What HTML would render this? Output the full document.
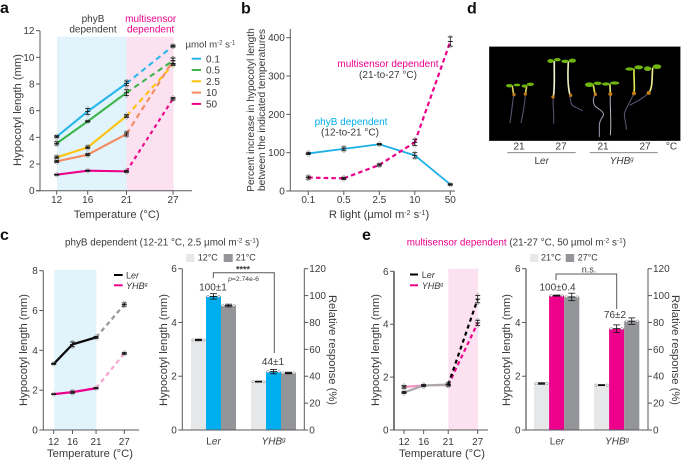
<!DOCTYPE html>
<html lang="en">
<head>
<meta charset="utf-8">
<title>Hypocotyl length figure</title>
<style>
html,body{margin:0;padding:0;background:#fff;}
svg{display:block;font-family:"Liberation Sans",Arial,sans-serif;fill:#3a3a3c;font-size:10px;}
.panel{font-size:16px;font-weight:bold;fill:#111;}
.axt{font-size:11.2px;}
.mid{text-anchor:middle;}
.pk{fill:#ec008c;}
.bl{fill:#00aeef;}
.it{font-style:italic;}
</style>
</head>
<body>
<svg id="fig" width="685" height="460" viewBox="0 0 685 460" xmlns="http://www.w3.org/2000/svg">
  <rect width="685" height="460" fill="#fff"/>
  <text class="panel" x="0" y="13">a</text>
  <text class="panel" x="241" y="13.5">b</text>
  <text class="panel" x="467" y="13.5">d</text>
  <text class="panel" x="0" y="240">c</text>
  <text class="panel" x="362" y="240">e</text>

  <!-- panel a static -->
  <rect x="57" y="36.7" width="69.5" height="154" fill="#e1f4fc"/>
  <rect x="126.5" y="36.7" width="47" height="154" fill="#fce1f0"/>
  <text class="mid" x="93" y="22">phyB</text>
  <text class="mid" x="93" y="32.5">dependent</text>
  <text class="mid pk" x="150.7" y="22">multisensor</text>
  <text class="mid pk" x="150.7" y="32.5">dependent</text>
  <text class="axt" text-anchor="middle" transform="translate(21,110) rotate(-90)">Hypocotyl length (mm)</text>
  <text class="axt mid" x="116.7" y="218">Temperature (°C)</text>
  <text x="185.5" y="47.5" style="font-size:9.6px">µmol m<tspan font-size="6" dy="-3">-2</tspan><tspan dy="3"> s</tspan><tspan font-size="6" dy="-3">-1</tspan></text>

  <!-- panel b static -->
  <text text-anchor="middle" style="font-size:10.2px" transform="translate(254,110) rotate(-90)">Percent increase in hypocotyl length</text>
  <text text-anchor="middle" style="font-size:10.2px" transform="translate(265,110) rotate(-90)">between the indicated temperatures</text>
  <text class="axt mid" x="379" y="218">R light (µmol m<tspan font-size="7" dy="-3">-2</tspan><tspan dy="3"> s</tspan><tspan font-size="7" dy="-3">-1</tspan><tspan dy="3">)</tspan></text>
  <text class="mid pk" x="388" y="67">multisensor dependent</text>
  <text class="mid" x="388" y="78">(21-to-27 °C)</text>
  <text class="mid bl" x="351" y="125">phyB dependent</text>
  <text class="mid" x="350" y="135.5">(12-to-21 °C)</text>

  <!-- panel d -->
  <rect x="489.3" y="46.7" width="191" height="94" fill="#000" stroke="#444" stroke-width=".5"/>
  <g transform="translate(455,0) scale(.33333)" fill="none" stroke-linecap="round">
    <g stroke="#5d5878" stroke-width="3">
      <path d="M176 285 C172 310 170 340 165 368"/>
      <path d="M211 283 C210 310 204 340 198 368"/>
      <path d="M295 290 C292 315 298 340 296 370"/>
      <path d="M345 285 C345 300 348 310 352 316 C360 322 372 326 382 332"/>
      <path d="M420 283 C410 305 416 318 430 326 C450 338 448 345 438 358 C430 370 434 390 433 410" stroke="#a09cb4"/>
      <path d="M466 283 C464 320 470 360 466 405" stroke="#b8b6c4"/>
      <path d="M537 280 C528 300 515 320 508 340 C508 360 514 370 514 388"/>
      <path d="M582 278 C565 295 545 305 525 315"/>
    </g>
    <g stroke-width="5">
      <path d="M172 258 L176 285" stroke="#d6d25a"/>
      <path d="M215 258 L211 283" stroke="#d6d25a"/>
      <path d="M298 185 C297 220 300 260 295 290" stroke="#f2f2d2"/>
      <path d="M340 186 C338 220 338 260 345 285" stroke="#ecebb8"/>
      <path d="M415 256 L420 283" stroke="#dcdf4a"/>
      <path d="M465 254 L466 283" stroke="#e4e47e"/>
      <path d="M537 208 C536 235 540 260 537 280" stroke="#e2e64c"/>
      <path d="M593 205 C590 235 594 260 582 278" stroke="#e8ea8a"/>
    </g>
    <g fill="#c07a1a" stroke="none">
      <circle cx="177" cy="284" r="5"/>
      <circle cx="211" cy="282" r="5"/>
      <circle cx="294" cy="291" r="5"/>
      <circle cx="347" cy="286" r="5"/>
      <circle cx="421" cy="283" r="5"/>
      <circle cx="466" cy="282" r="6"/>
      <circle cx="537" cy="280" r="6"/>
      <circle cx="581" cy="279" r="6"/>
    </g>
    <g fill="#6fb50e" stroke="none">
      <ellipse cx="163" cy="257" rx="10" ry="5"/>
      <ellipse cx="186" cy="255" rx="10" ry="4"/>
      <ellipse cx="208" cy="258" rx="8" ry="5"/>
      <ellipse cx="226" cy="253" rx="11" ry="5"/>
      <ellipse cx="287" cy="183" rx="10" ry="6"/>
      <ellipse cx="307" cy="179" rx="10" ry="5"/>
      <ellipse cx="330" cy="184" rx="11" ry="5"/>
      <ellipse cx="352" cy="182" rx="11" ry="6"/>
      <ellipse cx="403" cy="254" rx="13" ry="7"/>
      <ellipse cx="428" cy="250" rx="12" ry="5"/>
      <ellipse cx="453" cy="252" rx="12" ry="5"/>
      <ellipse cx="479" cy="249" rx="14" ry="5"/>
      <ellipse cx="524" cy="207" rx="13" ry="5"/>
      <ellipse cx="551" cy="202" rx="13" ry="6"/>
      <ellipse cx="578" cy="206" rx="11" ry="7"/>
      <ellipse cx="606" cy="200" rx="13" ry="7"/>
    </g>
  </g>
  <text class="mid" x="519" y="149.5">21</text>
  <text class="mid" x="561" y="149.5">27</text>
  <text class="mid" x="603" y="149.5">21</text>
  <text class="mid" x="645" y="149.5">27</text>
  <text class="mid" x="671.5" y="149.5">°C</text>
  <rect x="507.3" y="152" width="68.4" height="1.2" fill="#999"/>
  <rect x="589.7" y="152" width="68" height="1.2" fill="#999"/>
  <text class="mid" x="541.7" y="164">L<tspan class="it">er</tspan></text>
  <text class="mid it" x="621.7" y="164">YHB<tspan font-size="6" dy="-3">g</tspan></text>

  <!-- panel c static -->
  <text x="65" y="245.5" style="font-size:9.9px">phyB dependent (12-21 °C, 2.5 µmol m<tspan font-size="6.5" dy="-3">-2</tspan><tspan dy="3"> s</tspan><tspan font-size="6.5" dy="-3">-1</tspan><tspan dy="3">)</tspan></text>
  <rect x="54.3" y="270" width="42" height="160" fill="#e1f4fc"/>
  <text class="axt" text-anchor="middle" transform="translate(27,350) rotate(-90)">Hypocotyl length (mm)</text>
  <text class="axt mid" x="90" y="457">Temperature (°C)</text>
  <rect x="114" y="274" width="8.7" height="2" fill="#000"/>
  <text x="126" y="278.5" style="font-size:9px">L<tspan class="it">er</tspan></text>
  <rect x="114" y="284.3" width="8.7" height="2" fill="#ec008c"/>
  <text class="it" x="126" y="288.8" style="font-size:9px">YHB<tspan font-size="5.5" dy="-3">g</tspan></text>
  <rect x="186" y="254" width="8.3" height="8" fill="#e6e7e8"/>
  <text x="197.7" y="260.5" style="font-size:9px">12°C</text>
  <rect x="223.7" y="254" width="9" height="8" fill="#939598"/>
  <text x="235.7" y="260.5" style="font-size:9px">21°C</text>
  <text class="axt" text-anchor="middle" transform="translate(167,350) rotate(-90)">Hypocotyl length (mm)</text>
  <text class="axt" text-anchor="middle" transform="translate(329,350) rotate(90)">Relative response (%)</text>
  <path d="M213.3 278 V272.7 H274.3 V353" fill="none" stroke="#58595b" stroke-width="1"/>
  <text class="mid" x="243" y="272.5" style="font-size:9px;font-weight:bold">****</text>
  <text class="mid" x="243.5" y="281" style="font-size:6.8px"><tspan class="it">p</tspan>=2.74e-6</text>
  <text class="mid" x="213" y="290.5">100±1</text>
  <text class="mid" x="273" y="365">44±1</text>
  <text class="mid" x="213.5" y="444.5">L<tspan class="it">er</tspan></text>
  <text class="mid it" x="273.5" y="444.5">YHB<tspan font-size="6" dy="-3">g</tspan></text>

  <!-- panel e static -->
  <text x="406.7" y="245.5" style="font-size:9.9px"><tspan class="pk">multisensor dependent</tspan> (21-27 °C, 50 µmol m<tspan font-size="6.5" dy="-3">-2</tspan><tspan dy="3"> s</tspan><tspan font-size="6.5" dy="-3">-1</tspan><tspan dy="3">)</tspan></text>
  <rect x="448.3" y="268.7" width="29.7" height="161.3" fill="#fce1f0"/>
  <text class="axt" text-anchor="middle" transform="translate(379,350) rotate(-90)">Hypocotyl length (mm)</text>
  <text class="axt mid" x="442" y="457">Temperature (°C)</text>
  <rect x="410" y="273.5" width="8" height="2" fill="#000"/>
  <text x="421.7" y="277.8" style="font-size:9px">L<tspan class="it">er</tspan></text>
  <rect x="410" y="284.3" width="8" height="2" fill="#ec008c"/>
  <text class="it" x="421.7" y="288.8" style="font-size:9px">YHB<tspan font-size="5.5" dy="-3">g</tspan></text>
  <rect x="530" y="254" width="8.3" height="8" fill="#e6e7e8"/>
  <text x="541" y="260.5" style="font-size:9px">21°C</text>
  <rect x="565.7" y="254" width="8.5" height="8" fill="#939598"/>
  <text x="577.7" y="260.5" style="font-size:9px">27°C</text>
  <text class="axt" text-anchor="middle" transform="translate(510,350) rotate(-90)">Hypocotyl length (mm)</text>
  <text class="axt" text-anchor="middle" transform="translate(672,350) rotate(90)">Relative response (%)</text>
  <path d="M556 280 V274 H616.7 V309" fill="none" stroke="#58595b" stroke-width="1"/>
  <text class="mid" x="589" y="272.5" style="font-size:9px">n.s.</text>
  <text class="mid" x="557.5" y="290.5">100±0.4</text>
  <text class="mid" x="615" y="318">76±2</text>
  <text class="mid" x="557" y="444.5">L<tspan class="it">er</tspan></text>
  <text class="mid it" x="617" y="444.5">YHB<tspan font-size="6" dy="-3">g</tspan></text>
</svg>

<script>
// ---------- panel a data ----------
var aTemps = [12, 16, 21, 27];
var aYTicks = [0, 2, 4, 6, 8, 10, 12];
var aLegendLabels = ['0.1', '0.5', '2.5', '10', '50'];
var aSeries01 = [4.05, 5.95, 8.05, 10.85];
var aSeries05 = [3.55, 5.2, 7.35, 9.75];
var aSeries25 = [2.5, 3.25, 5.6, 9.45];
var aSeries10 = [2.2, 2.7, 4.25, 9.75];
var aSeries50 = [1.2, 1.5, 1.45, 6.9];
var aErr01 = [0.08, 0.22, 0.18, 0.08];
var aErr05 = [0.12, 0.05, 0.22, 0.2];
var aErr25 = [0.1, 0.1, 0.1, 0.06];
var aErr10 = [0.08, 0.08, 0.15, 0.2];
var aErr50 = [0.04, 0.04, 0.08, 0.1];
// ---------- panel b data ----------
var bCategories = ['0.1', '0.5', '2.5', '10', '50'];
var bYTicks = [0, 100, 200, 300, 400];
var bPhyB = [98, 110, 122, 93, 17];
var bMulti = [35, 33, 68, 127, 390];
var bPhyBErr = [3, 5, 2, 7, 2];
var bMultiErr = [4, 3, 3, 8, 12];
// ---------- panel c data ----------
var cTemps = [12, 16, 21, 27];
var cLineYTicks = [0, 2, 4, 6, 8];
var cLer = [3.32, 4.3, 4.65, 6.3];
var cYhb = [1.8, 1.9, 2.1, 3.85];
var cLerErr = [0.03, 0.12, 0.05, 0.08];
var cYhbErr = [0.02, 0.06, 0.03, 0.05];
var cBarTicks = [0, 2, 4, 6];
var cRelTicks = [0, 20, 40, 60, 80, 100, 120];
var cBarLer = [3.35, 4.97, 4.63];
var cBarYhb = [1.8, 2.17, 2.12];
var cBarLerErr = [0.03, 0.1, 0.05];
var cBarYhbErr = [0.02, 0.08, 0.03];
// ---------- panel e data ----------
var eTemps = [12, 16, 21, 27];
var eLineYTicks = [0, 2, 4, 6];
var eLer = [1.42, 1.68, 1.72, 4.95];
var eYhb = [1.63, 1.68, 1.7, 4.05];
var eLerErr = [0.04, 0.04, 0.06, 0.14];
var eYhbErr = [0.05, 0.03, 0.03, 0.1];
var eBarTicks = [0, 2, 4, 6];
var eRelTicks = [0, 20, 40, 60, 80, 100, 120];
var eBarLer = [1.73, 5.0, 4.95];
var eBarYhb = [1.67, 3.77, 4.05];
var eBarLerErr = [0.03, 0.02, 0.14];
var eBarYhbErr = [0.02, 0.14, 0.12];

var svg = document.getElementById('fig');
var NS = 'http://www.w3.org/2000/svg';
var AXIS = '#58595b';

function add(tag, name, attrs) {
  var el = document.createElementNS(NS, tag);
  for (var k in attrs) el.setAttribute(k, attrs[k]);
  
  
  svg.appendChild(el);
  return el;
}
function seg(name, x1, y1, x2, y2, color, width, dash) {
  var a = {x1: x1, y1: y1, x2: x2, y2: y2, stroke: color, 'stroke-width': width};
  if (dash) a['stroke-dasharray'] = dash;
  return add('line', name, a);
}
function label(name, x, y, str, anchor) {
  var t = add('text', name, {x: x, y: y, 'text-anchor': anchor});
  t.textContent = str;
  return t;
}
function linear(d0, d1, r0, r1) {
  return function (v) { return r0 + (v - d0) * (r1 - r0) / (d1 - d0); };
}
function yAxis(prefix, scale, ticks, x, top, width) {
  seg(prefix + '-y-axis', x, top, x, scale(ticks[0]) + 0.5, AXIS, width || 1);
  ticks.forEach(function (t) {
    seg(prefix + '-y-tick-' + t, x - 4, scale(t), x, scale(t), AXIS, 1);
    label(prefix + '-y-label-' + t, x - 5.5, scale(t) + 3.5, String(t), 'end');
  });
}
function yAxisRight(prefix, scale, ticks, x, top) {
  seg(prefix + '-y2-axis', x, top, x, scale(ticks[0]) + 0.5, AXIS, 1);
  ticks.forEach(function (t) {
    seg(prefix + '-y2-tick-' + t, x, scale(t), x + 4, scale(t), AXIS, 1);
    label(prefix + '-y2-label-' + t, x + 5, scale(t) + 3.5, String(t), 'start');
  });
}
function xAxis(prefix, xs, labels, x0, x1, y, base) {
  seg(prefix + '-x-axis', x0, y, x1, y, AXIS, 1);
  labels.forEach(function (l, i) {
    seg(prefix + '-x-tick-' + l, xs(i), y, xs(i), y + 4, AXIS, 1);
    label(prefix + '-x-label-' + l, xs(i), base, String(l), 'middle');
  });
}
function errorMark(prefix, x, y, yErrPx, cap, circleColor) {
  if (circleColor) {
    add('circle', prefix + '-replicate', {cx: x, cy: y - yErrPx - 0.5, r: 1.3, fill: 'none', stroke: circleColor, 'stroke-width': 0.5});
    add('circle', prefix + '-replicate', {cx: x, cy: y + yErrPx + 0.5, r: 1.3, fill: 'none', stroke: circleColor, 'stroke-width': 0.5});
  }
  seg(prefix + '-error-bar', x, y - yErrPx, x, y + yErrPx, '#111', 0.8);
  seg(prefix + '-error-cap', x - cap, y - yErrPx, x + cap, y - yErrPx, '#111', 0.8);
  seg(prefix + '-error-cap', x - cap, y + yErrPx, x + cap, y + yErrPx, '#111', 0.8);
  seg(prefix + '-mean', x - cap, y, x + cap, y, '#111', 0.9);
}
function series(prefix, xs, ys, vals, errs, solid, dashCol, width, dash, solidTo) {
  for (var i = 0; i < vals.length - 1; i++) {
    var isSolid = i < solidTo;
    seg(prefix + '-segment-' + i, xs(i), ys(vals[i]), xs(i + 1), ys(vals[i + 1]), isSolid ? solid : dashCol, width, isSolid ? null : dash);
  }
  vals.forEach(function (v, i) {
    errorMark(prefix + '-point-' + i, xs(i), ys(v), Math.abs(ys(0) - ys(errs[i])), 2.5, '#888');
  });
}

// ---------- panel a ----------
var aT = linear(12, 27, 56.7, 173);
var aY = linear(0, 12, 190.7, 30.7);
function aX(i) { return aT(aTemps[i]); }
yAxis('a', aY, aYTicks, 40, 30.7);
xAxis('a', aX, aTemps, 36, 192, 190.7, 203);
var aDash = '5.5 4';
series('a-series-0-1', aX, aY, aSeries01, aErr01, '#29b6ea', '#29b6ea', 2.1, aDash, 2);
series('a-series-0-5', aX, aY, aSeries05, aErr05, '#3cb54a', '#3cb54a', 2.1, aDash, 2);
series('a-series-2-5', aX, aY, aSeries25, aErr25, '#ffc20e', '#ffc20e', 2.1, aDash, 2);
series('a-series-10', aX, aY, aSeries10, aErr10, '#f58a5e', '#f58a5e', 2.1, aDash, 2);
series('a-series-50', aX, aY, aSeries50, aErr50, '#ec008c', '#ec008c', 2.1, '3.8 3.6', 2);
var aColors = ['#29b6ea', '#3cb54a', '#ffc20e', '#f58a5e', '#ec008c'];
aLegendLabels.forEach(function (l, i) {
  var rowY = 58.7 + i * 11.3;
  seg('a-legend-swatch-' + l, 191.7, rowY, 201, rowY, aColors[i], 2);
  label('a-legend-label-' + l, 206, rowY + 3.6, l, 'start');
});

// ---------- panel b ----------
var bY = linear(0, 400, 191, 37.7);
function bX(i) { return 308.3 + i * 35.5; }
yAxis('b', bY, bYTicks, 290.3, 29);
xAxis('b', bX, bCategories, 290.3, 455, 191, 203);
series('b-phyb', bX, bY, bPhyB, bPhyBErr, '#1cb0e8', '#1cb0e8', 1.8, null, 4);
series('b-multi', bX, bY, bMulti, bMultiErr, '#ec008c', '#ec008c', 2.2, '4.5 3.2', 0);

// ---------- panel c line ----------
var cT = linear(12, 27, 53.7, 124.3);
var cY = linear(0, 8, 430, 270.7);
function cX(i) { return cT(cTemps[i]); }
yAxis('c-line', cY, cLineYTicks, 43.3, 270.7);
xAxis('c-line', cX, cTemps, 43.3, 139, 430, 445);
series('c-ler', cX, cY, cLer, cLerErr, '#0b0b0b', '#9a9a9a', 2.3, '4.5 3.5', 2);
series('c-yhb', cX, cY, cYhb, cYhbErr, '#ec008c', '#f9a6d3', 2.3, '4.5 3.5', 2);

// ---------- bar charts ----------
function bars(prefix, y, x0, vals, errs, colors, groupIdx, width) {
  vals.forEach(function (v, i) {
    var x = x0 + groupIdx * 60 + i * width;
    add('rect', prefix + '-bar-' + i, {x: x, y: y(v), width: width, height: y(0) - y(v), fill: colors[i]});
    var cx = x + width / 2;
    add('circle', prefix + '-replicate-' + i, {cx: cx - 5.5, cy: y(v), r: 1.2, fill: '#fff', stroke: '#777', 'stroke-width': 0.5});
    add('circle', prefix + '-replicate-' + i, {cx: cx + 5.5, cy: y(v), r: 1.2, fill: '#fff', stroke: '#777', 'stroke-width': 0.5});
    errorMark(prefix + '-bar-' + i, cx, y(v), y(0) - y(errs[i]), 3.5, null);
  });
}
var cBarY = linear(0, 6, 430, 268.7);
var cRel = linear(0, 120, 430, 268.7);
var cColors = ['#e6e7e8', '#00aeef', '#939598'];
bars('c-ler', cBarY, 191, cBarLer, cBarLerErr, cColors, 0, 15);
bars('c-yhb', cBarY, 191, cBarYhb, cBarYhbErr, cColors, 1, 15);
yAxis('c-bar', cBarY, cBarTicks, 182.3, 268.7);
yAxisRight('c-bar', cRel, cRelTicks, 304.3, 268.7);
seg('c-bar-x-axis', 182.3, 430, 304.3, 430, AXIS, 1);

// ---------- panel e line ----------
var eT = linear(12, 27, 404, 477.7);
var eY = linear(0, 6, 430, 271.3);
function eX(i) { return eT(eTemps[i]); }
yAxis('e-line', eY, eLineYTicks, 394, 271.3, 1.6);
xAxis('e-line', eX, eTemps, 394, 488, 430, 445);
series('e-yhb', eX, eY, eYhb, eYhbErr, '#f590c4', '#ec008c', 2.2, '4 3.4', 2);
series('e-ler', eX, eY, eLer, eLerErr, '#aaaaaa', '#000', 2.2, '4 3.4', 2);

var eBarY = linear(0, 6, 430, 268.7);
var eRel = linear(0, 120, 430, 268.7);
var eColors = ['#e6e7e8', '#ec008c', '#939598'];
bars('e-ler', eBarY, 534, eBarLer, eBarLerErr, eColors, 0, 15.1);
bars('e-yhb', eBarY, 534, eBarYhb, eBarYhbErr, eColors, 1, 15.1);
yAxis('e-bar', eBarY, eBarTicks, 526, 268.7, 1.2);
yAxisRight('e-bar', eRel, eRelTicks, 648, 268.7);
seg('e-bar-x-axis', 526, 430, 648, 430, AXIS, 1);
</script>
</body>
</html>
